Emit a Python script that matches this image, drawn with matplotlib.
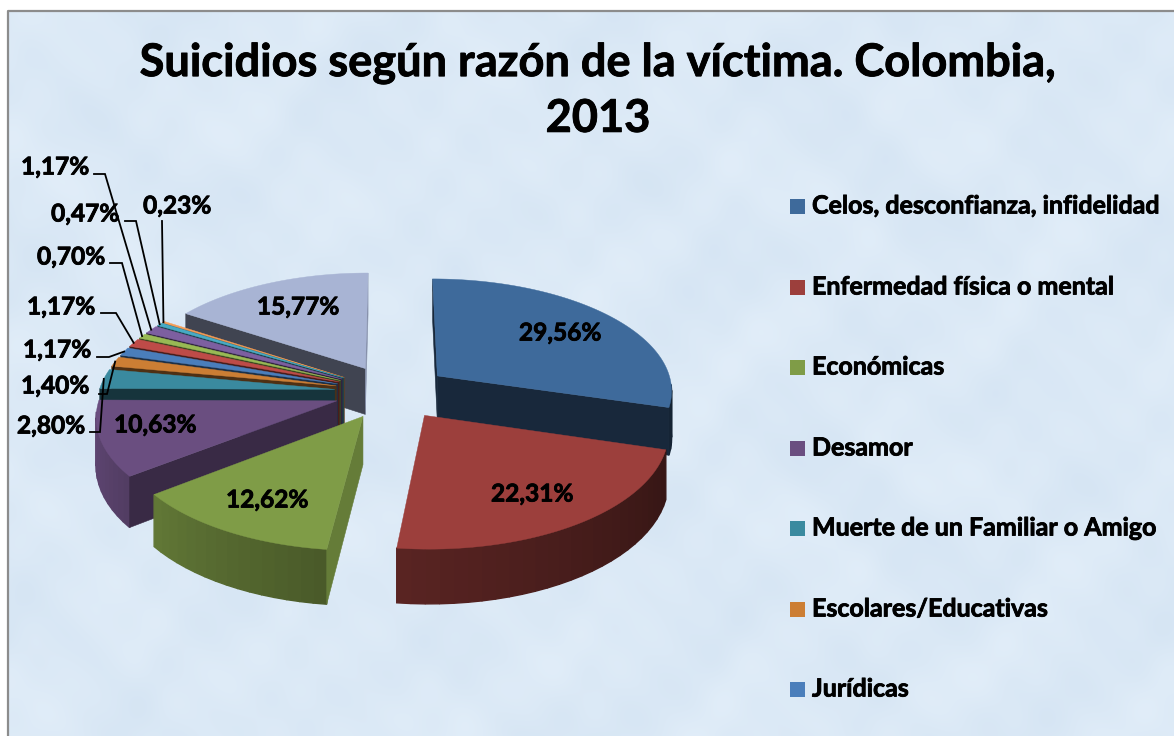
import numpy as np
import matplotlib
matplotlib.use("Agg")
import matplotlib.pyplot as plt
import matplotlib.patheffects as pe
from matplotlib.patches import Rectangle

# ---- data (clockwise from 12 o'clock) ----
values = [29.56, 22.31, 12.62, 10.63, 2.80, 1.40, 1.17, 1.17, 0.70, 1.17, 0.47, 0.23, 15.77]
labels = ["29,56%", "22,31%", "12,62%", "10,63%", "2,80%", "1,40%", "1,17%",
          "1,17%", "0,70%", "1,17%", "0,47%", "0,23%", "15,77%"]
legend_names = ["Celos, desconfianza, infidelidad", "Enfermedad física o mental",
                "Económicas", "Desamor", "Muerte de un Familiar o Amigo",
                "Escolares/Educativas", "Jurídicas"]
colors = ["#3e6a9b", "#9c3f3c", "#7f9c47", "#6a4e80", "#3a8a9f", "#cc7e34", "#4a7ebb",
          "#be4b48", "#98b954", "#7d5fa0", "#46aac5", "#f59d56", "#a8b4d4"]
title = "Suicidios según razón de la víctima. Colombia,\n2013"

# ---- layout ----
W, H = 1174, 736
CX, CY, RX, RY, K, DEPTH, EXPLODE = 392, 392, 236, 112, 0.118, 47, 0.244
label_xy = [(560, 333), (532, 494), (267, 500), (155, 425), (51, 426), (55, 386), (57, 350),
            (61, 307), (71, 257), (55, 167), (85, 214), (177, 206), (298, 307)]
# leader: label-side start and knee for the small slices (index -> two points)
leaders = {4: [(90, 432), (100, 432)], 5: [(99, 394), (107, 394)], 6: [(97, 357), (109, 357)],
           7: [(101, 313), (116, 313)], 8: [(110, 263), (122, 263)], 9: [(94, 174), (105, 174)],
           10: [(125, 221), (136, 221)], 11: [(162, 221), (162, 221)]}
legend_y = [206, 287, 367, 448, 528, 609, 689]

plt.rcParams["font.family"] = ["Lato", "DejaVu Sans"]
fig = plt.figure(figsize=(W / 100, H / 100), dpi=100, facecolor="white")
ax = fig.add_axes([0, 0, 1, 1])
ax.set_xlim(0, W)
ax.set_ylim(H, 0)
ax.axis("off")

# background panel with a soft mottled look
yy, xx = np.mgrid[0:H:2, 0:W:2]
tex = (np.sin(xx / 37.0 + np.sin(yy / 53.0) * 2.1) + np.sin(yy / 29.0 + np.cos(xx / 61.0) * 2.7)
       + 0.7 * np.sin((xx + yy) / 17.0 + np.sin(xx / 23.0)) + 0.5 * np.sin((xx - yy) / 11.0)) / 3.2
base = np.array([0.860, 0.914, 0.965])
img = np.clip(base[None, None, :] + tex[..., None] * np.array([0.022, 0.016, 0.010]), 0, 1)
ax.imshow(img, extent=(7.5, W, H, 10.5), aspect="auto", zorder=0, interpolation="bilinear")
ax.set_xlim(0, W)
ax.set_ylim(H, 0)
ax.plot([7.5, 7.5, W], [H, 10.5, 10.5], color="#8c8c8c", lw=1.6, zorder=1)


def project(x, y, z=0.0):
    w = 1 + K * y
    return CX + RX * x / w, CY + (-RY * y + z) / w


def shade(col, f):
    return tuple(np.array(matplotlib.colors.to_rgb(col)) * f)


def wall_factor(deg):
    return np.interp(deg, [90, 130, 186, 210, 250, 290], [0.30, 0.40, 0.57, 0.67, 0.85, 0.92])


edges = np.concatenate([[0], np.cumsum(values)]) / np.sum(values) * 360.0
slices = []
for i, c in enumerate(colors):
    a0, a1 = edges[i], edges[i + 1]
    slices.append((np.cos(np.radians((a0 + a1) / 2)), i, a0, a1, c))

anchors = {}
for _, i, a0, a1, c in sorted(slices, key=lambda s: -s[0]):
    mid = np.radians((a0 + a1) / 2)
    ox, oy = EXPLODE * np.sin(mid), EXPLODE * np.cos(mid)
    th = np.radians(np.linspace(a0, a1, max(3, int((a1 - a0) / 3) + 2)))
    ex, ey = ox + np.sin(th), oy + np.cos(th)

    # outer wall in narrow strips, overlapped so no seams show
    for j in range(len(th) - 1):
        tm = np.degrees((th[j] + th[j + 1]) / 2)
        if np.cos(np.radians(tm)) < -0.1:
            pts = [project(ex[j], ey[j]), project(ex[j + 1], ey[j + 1]),
                   project(ex[j + 1], ey[j + 1], DEPTH), project(ex[j], ey[j], DEPTH)]
            ax.fill(*zip(*pts), color=shade(c, wall_factor(tm)), lw=1.0, zorder=2)
    # radial faces
    for ang, sign in ((a0, -1), (a1, 1)):
        n = np.radians(ang + sign * 90)
        nx, ny = np.sin(n), np.cos(n)
        if ny < 0.02:
            r = np.radians(ang)
            px, py = ox + np.sin(r), oy + np.cos(r)
            pts = [project(ox, oy), project(px, py), project(px, py, DEPTH), project(ox, oy, DEPTH)]
            f = 0.38 + 0.42 * max(0, nx) ** 2
            ax.fill(*zip(*pts), color=shade(c, f), lw=0.4, zorder=2)
    # top face
    th_fine = np.radians(np.linspace(a0, a1, max(3, int(a1 - a0) + 2)))
    xs = np.concatenate([[ox], ox + np.sin(th_fine)])
    ys = np.concatenate([[oy], oy + np.cos(th_fine)])
    top = [project(a, b) for a, b in zip(xs, ys)]
    ax.fill(*zip(*top), color=c, lw=0.3, zorder=2)
    anchors[i] = project(ox + np.sin(mid), oy + np.cos(mid))

# leader lines from the label knee to the slice rim
for i, (p0, p1) in leaders.items():
    ax.plot([p0[0], p1[0], anchors[i][0]], [p0[1], p1[1], anchors[i][1]],
            color="black", lw=1.3, zorder=3, solid_joinstyle="miter")

heavy = [pe.withStroke(linewidth=0.6, foreground="black")]
for (x, y), t in zip(label_xy, labels):
    ax.text(x, y, t, ha="center", va="center", fontsize=17.6, fontweight="bold", color="black",
            zorder=4, path_effects=heavy)

ax.text(598, 91, title, ha="center", va="center", fontsize=32.5, fontweight="bold",
        color="black", linespacing=1.39, zorder=4, path_effects=heavy)

for y, name, c in zip(legend_y, legend_names, colors):
    ax.add_patch(Rectangle((790, y - 7.5), 15, 15, facecolor=c, edgecolor="none", zorder=4))
    ax.text(812, y, name, ha="left", va="center", fontsize=18, fontweight="bold", color="black",
            zorder=4, path_effects=heavy)

fig.savefig("out.png", dpi=100)
